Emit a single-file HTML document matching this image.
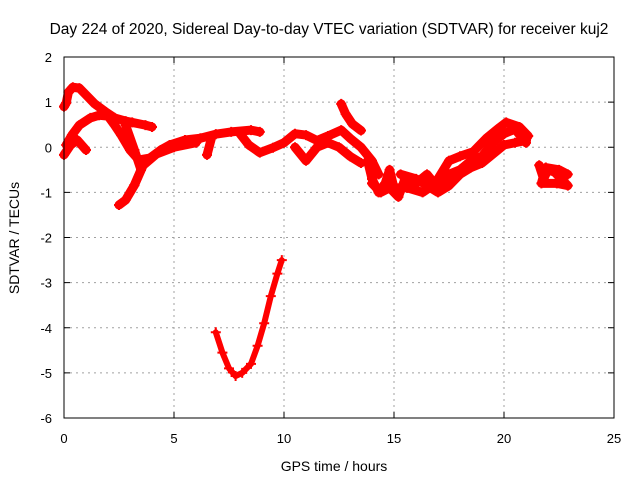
<!DOCTYPE html>
<html><head><meta charset="utf-8"><style>
body{margin:0;background:#fff}
svg{display:block;font-family:"Liberation Sans",sans-serif}
</style></head><body>
<svg id="chart" width="640" height="480">
<text x="329" y="34" font-size="15.5" text-anchor="middle">Day 224 of 2020, Sidereal Day-to-day VTEC variation (SDTVAR) for receiver kuj2</text>
<text x="334" y="471" font-size="14" text-anchor="middle">GPS time / hours</text>
<text transform="translate(19,238) rotate(-90)" font-size="14" text-anchor="middle">SDTVAR / TECUs</text>
<g id="grid"></g><g id="axes"></g><g id="marks"></g>
<rect x="64" y="57" width="550" height="361" fill="none" stroke="#000" stroke-width="1"/>
</svg>
<script>
const xTicks=[0,5,10,15,20,25];
const yTicks=[2,1,0,-1,-2,-3,-4,-5,-6];
const track1=[[0,0.9],[0.1,0.98],[0.2,1.22],[0.4,1.33],[0.7,1.31],[1.1,1.11],[1.4,0.96],[1.9,0.78],[2.3,0.65],[2.8,0.58],[3.1,0.55],[3.7,0.49],[4.0,0.45]];
const track2=[[0.1,0.05],[0.36,0.27],[0.7,0.49],[1.2,0.65],[1.6,0.71],[2.0,0.69],[2.3,0.49],[2.6,0.27],[3.0,-0.06],[3.4,-0.28],[3.9,-0.24],[4.4,-0.06],[4.8,0.05],[5.5,0.16],[6.2,0.2],[6.9,0.29],[7.6,0.34],[8.5,0.38],[8.9,0.34]];
const track3=[[0,-0.17],[0.3,0.05],[0.6,0.16],[1.0,-0.06]];
const track4=[[2.8,0.49],[3.2,-0.06],[3.5,-0.5],[3.2,-0.84],[2.8,-1.17],[2.5,-1.28]];
const track5=[[3.2,-0.84],[3.6,-0.4],[4.2,-0.15],[5.0,0.0],[6.0,0.1]];
const track6=[[6.5,-0.17],[6.7,0.2]];
const track7=[[8.0,0.3],[8.4,0.05],[8.9,-0.12],[9.5,-0.01],[10.0,0.1],[10.5,0.3],[11.0,0.27],[11.5,0.15],[12.0,0.25],[12.6,0.38],[13.0,0.2],[13.5,0.0],[14.0,-0.3],[14.3,-0.6]];
const track8=[[10.5,0.0],[11,-0.3],[11.5,0.0],[12,0.1],[12.5,0.0],[13,-0.2],[13.5,-0.35]];
const track9=[[12.6,0.96],[12.8,0.74],[13.1,0.52],[13.5,0.37]];
const track10=[[14.0,-0.8],[14.4,-1.0],[14.8,-0.9],[15.2,-1.1],[15.5,-0.7],[16,-0.8],[16.5,-0.6],[17,-0.9],[17.5,-0.6],[18,-0.5],[18.5,-0.3],[19,-0.2],[19.5,0.1],[20,0.3],[20.5,0.4],[21,0.1]];
const track11=[[17,-0.7],[17.5,-0.3],[18,-0.2],[18.6,-0.1],[19.2,0.2],[19.7,0.4],[20.1,0.55],[20.7,0.45],[21.1,0.25]];
const track12=[[15.3,-0.6],[16,-0.7],[17,-1.0],[17.5,-0.85],[18,-0.6],[18.5,-0.45],[19,-0.35],[19.5,-0.15],[20,0.05],[20.5,0.1],[21,0.15]];
const track13=[[21.6,-0.4],[21.8,-0.7],[22,-0.5],[22.3,-0.55],[22.6,-0.7],[22.9,-0.85],[22.4,-0.8],[21.7,-0.8],[21.9,-0.45],[22.5,-0.5],[22.9,-0.6]];
const track15=[[13.8,-0.3],[14.0,-0.7],[14.3,-1.0],[14.6,-0.8],[14.8,-0.5],[15.0,-0.9],[15.6,-0.9],[16.3,-1.0],[16.9,-0.8]];
const track14=[[6.9,-4.1],[7.2,-4.55],[7.5,-4.9],[7.8,-5.07],[8.1,-5.0],[8.5,-4.8],[8.8,-4.4],[9.1,-3.9],[9.4,-3.3],[9.7,-2.8],[9.9,-2.5]];
const tracks=[track1,track2,track3,track4,track5,track6,track7,track8,track9,track10,track11,track12,track13,track15,track14];
const NS="http://www.w3.org/2000/svg";
const X=h=>64+h*22, Y=v=>57+(2-v)*45.125;
const grid=document.getElementById('grid'),axes=document.getElementById('axes'),marks=document.getElementById('marks');
function mk(tag,attrs,parent){const e=document.createElementNS(NS,tag);for(const k in attrs)e.setAttribute(k,attrs[k]);parent.appendChild(e);return e;}
xTicks.forEach(t=>{const x=X(t);
 if(t>0&&t<25){const g=mk('line',{x1:x,x2:x,y1:57,y2:418,stroke:'#a0a0a0','stroke-dasharray':'2,4'},grid);
 
 }
 mk('line',{x1:x,x2:x,y1:418,y2:412,stroke:'#000'},axes);mk('line',{x1:x,x2:x,y1:57,y2:63,stroke:'#000'},axes);
 const l=mk('text',{x:x,y:443,'font-size':13,'text-anchor':'middle'},axes);l.textContent=t;
 
 });
yTicks.forEach(t=>{const y=Y(t);
 if(t<2&&t>-6){const g=mk('line',{x1:64,x2:614,y1:y,y2:y,stroke:'#a0a0a0','stroke-dasharray':'2,4'},grid);
 
 }
 mk('line',{x1:64,x2:70,y1:y,y2:y,stroke:'#000'},axes);mk('line',{x1:614,x2:608,y1:y,y2:y,stroke:'#000'},axes);
 const l=mk('text',{x:52,y:y+5,'font-size':13,'text-anchor':'end'},axes);l.textContent=t;
 
 });
tracks.forEach((tr,i)=>{
 const p=mk('polyline',{points:tr.map(d=>X(d[0])+','+Y(d[1])).join(' '),fill:'none',stroke:'#f00','stroke-width':(tr===track14?6:9),'stroke-linejoin':'round','stroke-linecap':'round'},marks);
 
 
 tr.forEach(d=>{const x=X(d[0]),y=Y(d[1]);
  const m=mk('path',{d:`M${x-5},${y}H${x+5}M${x},${y-5}V${y+5}`,stroke:'#f00','stroke-width':2},marks);
  
  });
});
</script>
</body></html>
